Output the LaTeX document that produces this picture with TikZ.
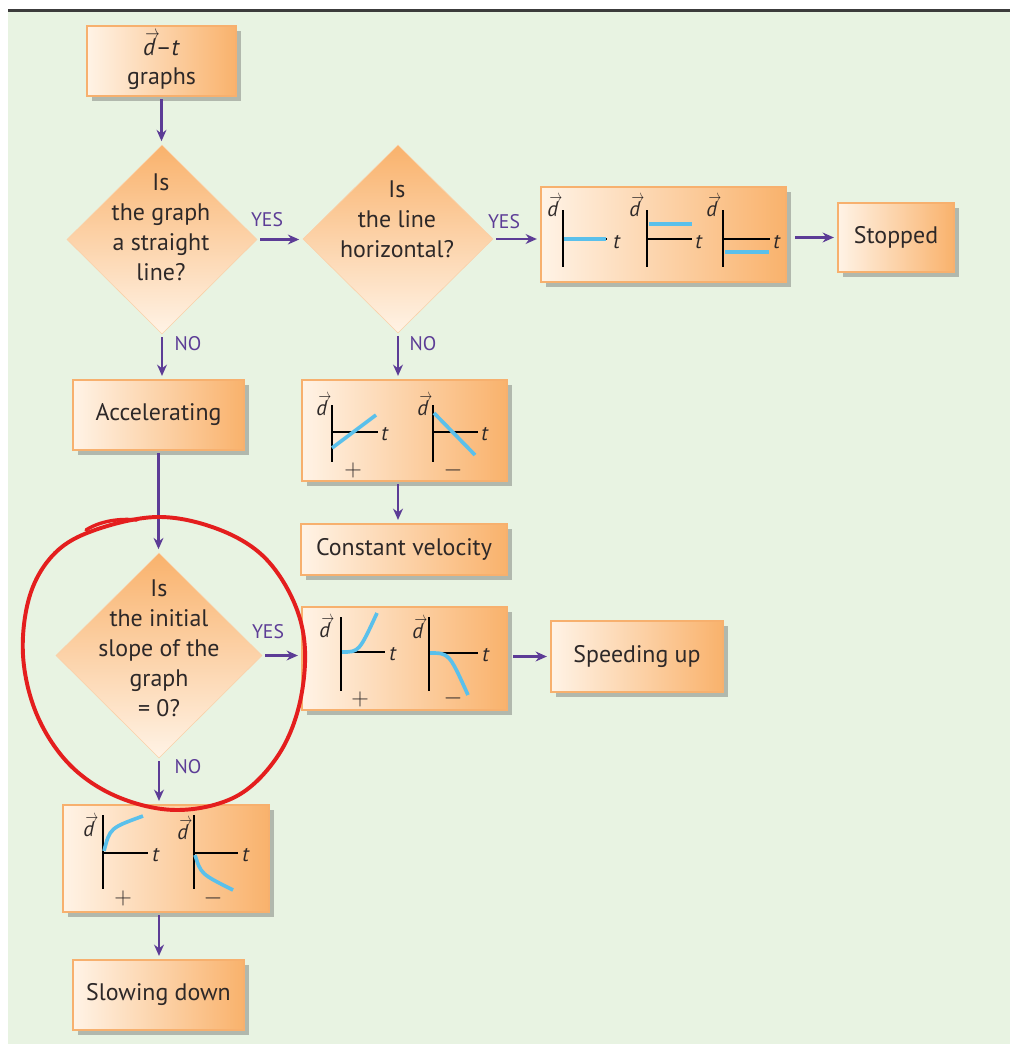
\documentclass[tikz,border=0pt]{standalone}
\usepackage{fontspec}
\usepackage{graphicx}
\setmainfont{PT Sans}
\usetikzlibrary{shapes.geometric,arrows.meta,shadows}
\definecolor{bggreen}{RGB}{232,243,226}
\definecolor{rulegray}{RGB}{60,60,60}
\definecolor{boxlight}{RGB}{255,243,230}
\definecolor{boxdark}{RGB}{249,178,108}
\definecolor{boxedge}{RGB}{247,176,110}
\definecolor{arrowpurple}{RGB}{92,60,150}
\definecolor{txt}{RGB}{45,40,40}
\definecolor{curveblue}{RGB}{90,192,235}
\definecolor{loopred}{RGB}{228,30,30}
\newcommand{\dvec}{\makebox[0pt][l]{\raisebox{0.66em}{\hspace{0.1em}\resizebox{0.6em}{0.32em}{$\rightarrow$}}}\textit{d}}
\begin{document}
\begin{tikzpicture}[x=0.025cm,y=-0.025cm,
  box/.style={rectangle, draw=boxedge, line width=0.8pt, left color=boxlight, right color=boxdark,
    inner sep=0pt, align=center, text=txt, font=\fontsize{17}{21}\selectfont,
    drop shadow={shadow xshift=0.12cm, shadow yshift=-0.12cm, opacity=0.35, fill=black!70}},
  dia/.style={diamond, inner sep=0pt, top color=boxdark, bottom color=boxlight, draw=boxedge!60, line width=0.4pt},
  qtext/.style={align=center, text=txt, font=\fontsize{17}{21.3}\selectfont, inner sep=0pt},
  lab/.style={text=arrowpurple, font=\fontsize{14}{16}\selectfont, inner sep=0pt},
  arr/.style={draw=arrowpurple, line width=1.8pt, -{Stealth[length=8pt,width=7pt]}, shorten <=2pt, shorten >=2.5pt},
  axisline/.style={black, line width=1.4pt},
  crv/.style={curveblue, line width=2.6pt},
  gl/.style={text=txt, font=\fontsize{15}{16}\selectfont, inner sep=0pt},
  sg/.style={text=txt, font=\fontsize{17}{17}\selectfont, inner sep=0pt}
]
\path[use as bounding box] (0,0) rectangle (1010,1044);
\fill[white] (0,0) rectangle (1010,1044);
\fill[bggreen] (8,12) rectangle (1010,1044);
\draw[rulegray, line width=2.2pt] (8,10.5) -- (1010,10.5);

% boxes
\node[box, minimum width=3.725cm, minimum height=1.75cm] (top) at (161.5,61) {\dvec–\textit{t}\\graphs};
\node[box, minimum width=6.125cm, minimum height=2.375cm] (g1) at (663.5,234.5) {};
\node[box, minimum width=2.9cm, minimum height=1.725cm] (st) at (896,237.5) {Stopped};
\node[box, minimum width=4.275cm, minimum height=1.75cm] (acc) at (158.5,415) {Accelerating};
\node[box, minimum width=5.125cm, minimum height=2.525cm] (g2) at (404.5,430.5) {};
\node[box, minimum width=5.15cm, minimum height=1.275cm] (cv) at (404,549.5) {Constant velocity};
\node[box, minimum width=5.125cm, minimum height=2.575cm] (g3) at (404.5,658.5) {};
\node[box, minimum width=4.3cm, minimum height=1.775cm] (su) at (637,656.5) {Speeding up};
\node[box, minimum width=5.15cm, minimum height=2.675cm] (g4) at (166,858.5) {};
\node[box, minimum width=4.275cm, minimum height=1.75cm] (sd) at (158.5,995) {Slowing down};

% diamonds
\node[dia, minimum width=4.75cm, minimum height=4.725cm] (d1) at (162,239.5) {};
\node[dia, minimum width=4.75cm, minimum height=4.7cm] (d2) at (398,239) {};
\node[dia, minimum width=5.15cm, minimum height=5.125cm] (d3) at (159,655.5) {};
\node[qtext] (d1t) at (161,227) {Is\\the graph\\a straight\\line?};
\node[qtext] (d2t) at (397,219) {Is\\the line\\horizontal?};
\node[qtext] (d3t) at (159,648) {Is\\the initial\\slope of the\\graph\\= 0?};

% arrows
\draw[arr] (top.south) -- (top.south |- d1.north);
\draw[arr] (d1.south) -- (d1.south |- acc.north);
\draw[arr] (acc.south) -- (acc.south |- d3.north);
\draw[arr] (d3.south) -- (d3.south |- g4.north);
\draw[arr] (d3.south |- g4.south) -- (d3.south |- sd.north);
\draw[arr] (d2.south) -- (d2.south |- g2.north);
\draw[arr] (d2.south |- g2.south) -- (d2.south |- cv.north);
\draw[arr] (d1.east) -- (d1.east -| d2.west);
\draw[arr] (d2.east) -- (d2.east -| g1.west);
\draw[arr, shorten <=6pt] (g1.east |- st.west) -- (st.west);
\draw[arr] (d3.east) -- (d3.east -| g3.west);
\draw[arr, shorten <=4pt] (g3.east |- su.west) -- (su.west);

% labels
\node[lab] (y1) at (267,220) {YES};
\node[lab] (y2) at (504,222) {YES};
\node[lab] (y3) at (268,632) {YES};
\node[lab] (n1) at (188,344) {NO};
\node[lab] (n2) at (423,344) {NO};
\node[lab] (n3) at (188,767) {NO};

% stopped graphs
\draw[axisline] (563,210) -- (563,267);
\draw[axisline] (563,239) -- (607,239);
\draw[crv] (564,239) -- (606,239);
\node[gl] (g1d1) at (553,206) {\dvec};
\node[gl] (g1t1) at (617,242) {\textit{t}};
\draw[axisline] (647,210) -- (647,267);
\draw[axisline] (647,239) -- (692,239);
\draw[crv] (649,224) -- (692,224);
\node[gl] (g1d2) at (635,206) {\dvec};
\node[gl] (g1t2) at (699,242) {\textit{t}};
\draw[axisline] (723,210) -- (723,267);
\draw[axisline] (723,239) -- (770,239);
\draw[crv] (725,252) -- (769,252);
\node[gl] (g1d3) at (712,206) {\dvec};
\node[gl] (g1t3) at (777,242) {\textit{t}};

% constant velocity graphs
\draw[axisline] (332,405) -- (332,462);
\draw[axisline] (332,432) -- (378,432);
\draw[crv] (332,448) -- (376,415);
\node[gl] (g2d1) at (322,405) {\dvec};
\node[gl] (g2t1) at (385,434) {\textit{t}};
\node[sg] (g2p) at (353,470) {$+$};
\draw[axisline] (433,405) -- (433,462);
\draw[axisline] (433,432) -- (478,432);
\draw[crv] (434,413) -- (475,455);
\node[gl] (g2d2) at (423,405) {\dvec};
\node[gl] (g2t2) at (485,434) {\textit{t}};
\node[sg] (g2m) at (453,470) {$-$};

% speeding up graphs
\draw[axisline] (341,617) -- (341,691);
\draw[axisline] (341,652) -- (385,652);
\draw[crv] (342,652) .. controls (359,652) .. (377,613);
\node[gl] (g3d1) at (325,627) {\dvec};
\node[gl] (g3t1) at (393,654) {\textit{t}};
\node[sg] (g3p) at (360,699) {$+$};
\draw[axisline] (429,617) -- (429,691);
\draw[axisline] (429,653) -- (478,653);
\draw[crv] (430,653) .. controls (449,653) .. (468,695);
\node[gl] (g3d2) at (418,628) {\dvec};
\node[gl] (g3t2) at (486,655) {\textit{t}};
\node[sg] (g3m) at (453,698) {$-$};

% slowing down graphs
\draw[axisline] (103,815) -- (103,889);
\draw[axisline] (103,853) -- (148,853);
\draw[crv] (104,851) .. controls (110,828) .. (143,816);
\node[gl] (g4d1) at (89,826) {\dvec};
\node[gl] (g4t1) at (156,855) {\textit{t}};
\node[sg] (g4p) at (123,898) {$+$};
\draw[axisline] (194,815) -- (194,889);
\draw[axisline] (194,853) -- (238,853);
\draw[crv] (195,855) .. controls (201,874) .. (233,890);
\node[gl] (g4d2) at (183,829) {\dvec};
\node[gl] (g4t2) at (246,855) {\textit{t}};
\node[sg] (g4m) at (213,898) {$-$};

% red hand-drawn loop
\draw[loopred, line width=2.8pt, line cap=round, line join=round]
  plot[smooth cycle, tension=0.6] coordinates {(157,517) (215,528) (262,555) (293,600) (305,650) (298,710) (275,760) (235,797) (177,810) (118,797) (70,765) (37,715) (23,655) (30,595) (55,553) (95,530)};
\draw[loopred, line width=2.4pt, line cap=round] (86,530) .. controls (100,521) and (120,518) .. (137,520);
\end{tikzpicture}
\end{document}
